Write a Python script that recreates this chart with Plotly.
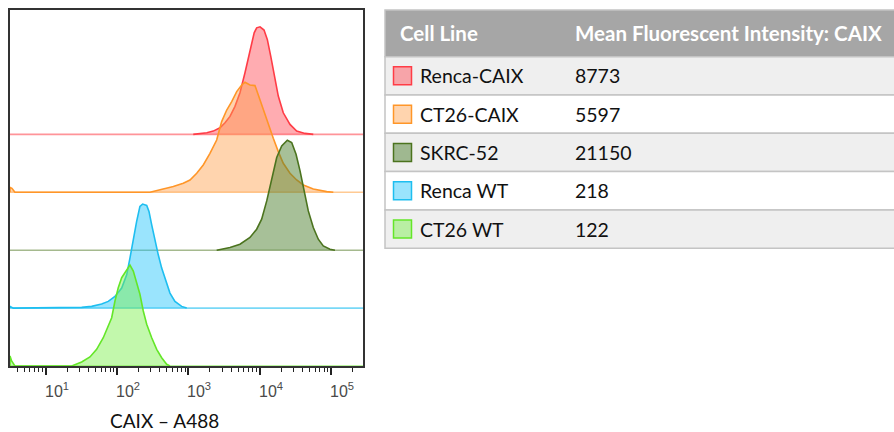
import numpy as np
import plotly.graph_objects as go

# ---------------- data ----------------
cell_lines = ["Renca-CAIX", "CT26-CAIX", "SKRC-52", "Renca WT", "CT26 WT"]
mfi_caix = [8773, 5597, 21150, 218, 122]
table_header = ["Cell Line", "Mean Fluorescent Intensity: CAIX"]
x_title = "CAIX – A488"
x_tick_values = [1e1, 1e2, 1e3, 1e4, 1e5]
x_tick_labels = ["10<sup>1</sup>", "10<sup>2</sup>", "10<sup>3</sup>", "10<sup>4</sup>", "10<sup>5</sup>"]

# histograms: log10(fluorescence) and normalised event count (mode ~ 100-110)
renca_caix_log = [3.07, 3.26, 3.35, 3.445, 3.515, 3.585, 3.655, 3.725, 3.795, 3.865, 3.924, 3.959,
                  4.006, 4.062, 4.108, 4.156, 4.206, 4.262, 4.332, 4.426, 4.52, 4.637, 4.753]
renca_caix_cnt = [0, 1.7, 3.3, 6.6, 11.6, 18, 28, 41.6, 61.6, 85, 101.6, 106.6,
                  107.6, 104.3, 95, 78.3, 58.3, 38.3, 21.6, 10, 3.3, 1, 0]

ct26_caix_log = [0.5, 0.527, 0.569, 2.463, 2.79, 2.93, 3.024, 3.118, 3.21, 3.304, 3.398, 3.468, 3.539,
                 3.609, 3.679, 3.749, 3.795, 3.865, 3.935, 3.982, 4.029, 4.076, 4.122, 4.192,
                 4.262, 4.332, 4.426, 4.52, 4.613, 4.753, 4.941, 5.034]
ct26_caix_cnt = [5, 4, 0, 0, 5.7, 9, 12.3, 19, 27.3, 39, 52.3, 70.7, 82.3,
                 90.7, 100.7, 107.3, 110, 107.3, 106.7, 97.3, 87.3, 77.3, 67.3, 54,
                 40.7, 29, 19, 12.3, 7.3, 3.3, 0.7, 0]

skrc52_log = [3.398, 3.585, 3.725, 3.865, 3.959, 4.029, 4.1, 4.17, 4.24, 4.31, 4.389, 4.45,
              4.511, 4.567, 4.623, 4.683, 4.753, 4.823, 4.893, 4.987, 5.057]
skrc52_cnt = [0, 2.7, 6, 12.7, 21, 31, 49.3, 72.7, 92.7, 104.3, 110, 107.7,
              96, 79.3, 59.3, 39.3, 22.7, 11, 4.3, 1, 0]

renca_wt_log = [0.5, 0.546, 1.505, 1.645, 1.785, 1.878, 1.972, 2.066, 2.136, 2.182, 2.229, 2.276,
                2.322, 2.36, 2.417, 2.449, 2.487, 2.533, 2.579, 2.627, 2.683, 2.743, 2.813,
                2.907, 2.978]
renca_wt_cnt = [1.7, 0, 0.7, 1.7, 4, 6.7, 11.7, 20, 33.3, 50, 70, 86.7,
                101.7, 104, 102.7, 96.7, 83.3, 66.7, 53.3, 40, 26.7, 15, 6.7,
                1.7, 0]

ct26_wt_log = [0.5, 0.523, 0.569, 1.365, 1.505, 1.621, 1.715, 1.808, 1.878, 1.926, 1.972, 2.018,
               2.066, 2.122, 2.182, 2.229, 2.276, 2.322, 2.369, 2.417, 2.487, 2.557, 2.627,
               2.697, 2.743]
ct26_wt_cnt = [10, 5, 0, 0, 4, 9, 16.7, 28.3, 40, 48.3, 65, 78.3,
               88.3, 95, 101, 95, 83.3, 71.7, 55, 41.7, 28.3, 16.7, 8.3,
               1.7, 0]

hist_log = [renca_caix_log, ct26_caix_log, skrc52_log, renca_wt_log, ct26_wt_log]
hist_cnt = [renca_caix_cnt, ct26_caix_cnt, skrc52_cnt, renca_wt_cnt, ct26_wt_cnt]

# ---------------- styles ----------------
line_colors = ["rgb(255,60,70)", "rgb(255,150,40)", "rgb(75,115,30)", "rgb(30,190,240)", "rgb(100,230,40)"]
fill_colors = ["rgba(255,90,100,0.5)", "rgba(255,160,75,0.45)", "rgba(80,130,50,0.5)",
               "rgba(30,195,250,0.45)", "rgba(120,240,70,0.45)"]
base_colors = ["rgba(255,60,70,0.55)", "rgba(255,150,40,0.5)", "rgba(75,115,30,0.5)",
               "rgba(30,190,240,0.6)", "rgba(100,230,40,0.6)"]

W, H = 894, 432
X_RANGE = [0.5, 5.45]
Y_MAX = 356
STEP = 57.9
n = len(cell_lines)

fig = go.Figure()
for i in range(n):
    off = (n - 1 - i) * STEP
    lx = np.array(hist_log[i], dtype=float)
    cy = np.array(hist_cnt[i], dtype=float)
    # full-width baseline
    fig.add_trace(go.Scatter(x=[10 ** X_RANGE[0], 10 ** X_RANGE[1]], y=[off, off], mode="lines",
                             line=dict(color=base_colors[i], width=1.6), hoverinfo="skip"))
    xs = np.concatenate([[lx[0]], lx, [lx[-1]]])
    ys = np.concatenate([[0], cy, [0]]) + off
    fig.add_trace(go.Scatter(x=10 ** xs, y=ys, mode="lines", fill="toself",
                             fillcolor=fill_colors[i],
                             line=dict(color=line_colors[i], width=1.6),
                             name=cell_lines[i], hoverinfo="name"))

minor_vals = [k * 10 ** d for d in range(0, 6) for k in range(2, 10)]

fig.update_layout(
    width=W, height=H, margin=dict(l=0, r=0, t=0, b=0),
    paper_bgcolor="white", plot_bgcolor="white", showlegend=False,
    xaxis=dict(type="log", range=X_RANGE, domain=[10 / W, 363 / W], automargin=False,
               tickmode="array", tickvals=x_tick_values, showticklabels=False,
               ticks="outside", ticklen=7, tickwidth=2, tickcolor="#222",
               minor=dict(tickvals=minor_vals, ticks="outside", ticklen=4, tickwidth=1, tickcolor="#222"),
               showgrid=False, zeroline=False, showline=True, mirror=True,
               linecolor="#333", linewidth=1.5),
    yaxis=dict(range=[0, Y_MAX], domain=[1 - 366 / H, 1 - 10 / H], automargin=False,
               showticklabels=False, ticks="", showgrid=False, zeroline=False,
               showline=True, mirror=True, linecolor="#333", linewidth=1.5),
)

def px(x):
    return x / W

def py(y):
    return 1 - y / H

shapes = []
annotations = []

# tick labels (left edge sits on the tick, as in the reference)
for v, t in zip(x_tick_values, x_tick_labels):
    annotations.append(dict(x=np.log10(v), y=py(402), xref="x", yref="paper", text=t,
                            showarrow=False, xanchor="left", yanchor="bottom", xshift=-3,
                            font=dict(family="Liberation Sans", size=16, color="#4a4a4a")))

# x-axis title
annotations.append(dict(x=px(164), y=py(420), xref="paper", yref="paper", text=x_title,
                        showarrow=False, xanchor="center", yanchor="middle",
                        font=dict(family="Lato", size=19, color="#111")))

# table
T_LEFT, T_RIGHT = 385, 900
HDR_TOP, HDR_BOT = 10, 56.7
ROW_H = 38.3
border = "#c4c4c4"
shapes.append(dict(type="rect", xref="paper", yref="paper", x0=px(T_LEFT), x1=px(T_RIGHT),
                   y0=py(HDR_BOT), y1=py(HDR_TOP), fillcolor="#a6a6a6",
                   line=dict(color=border, width=1.5), layer="above"))
hdr_mid = (HDR_TOP + HDR_BOT) / 2
for txt, xx in zip(table_header, [398, 573]):
    annotations.append(dict(x=px(xx), y=py(hdr_mid), xref="paper", yref="paper",
                            text="<b>" + txt + "</b>", showarrow=False, xanchor="left",
                            yanchor="middle", font=dict(family="Lato", size=20.5, color="white")))
for i in range(n):
    top = HDR_BOT + i * ROW_H
    bot = top + ROW_H
    mid = (top + bot) / 2
    shapes.append(dict(type="rect", xref="paper", yref="paper", x0=px(T_LEFT), x1=px(T_RIGHT),
                       y0=py(bot), y1=py(top), fillcolor="#efefef" if i % 2 == 0 else "white",
                       line=dict(color=border, width=1.5), layer="above"))
    shapes.append(dict(type="rect", xref="paper", yref="paper", x0=px(393.5), x1=px(411.5),
                       y0=py(mid + 9), y1=py(mid - 9), fillcolor=fill_colors[i],
                       line=dict(color=line_colors[i], width=1.5), layer="above"))
    annotations.append(dict(x=px(418), y=py(mid), xref="paper", yref="paper", text=cell_lines[i],
                            showarrow=False, xanchor="left", yanchor="middle",
                            font=dict(family="Lato", size=19.5, color="#111")))
    annotations.append(dict(x=px(573), y=py(mid), xref="paper", yref="paper", text=str(mfi_caix[i]),
                            showarrow=False, xanchor="left", yanchor="middle",
                            font=dict(family="Lato", size=19.5, color="#111")))

fig.update_layout(shapes=shapes, annotations=annotations)
fig.write_html("out.html")
